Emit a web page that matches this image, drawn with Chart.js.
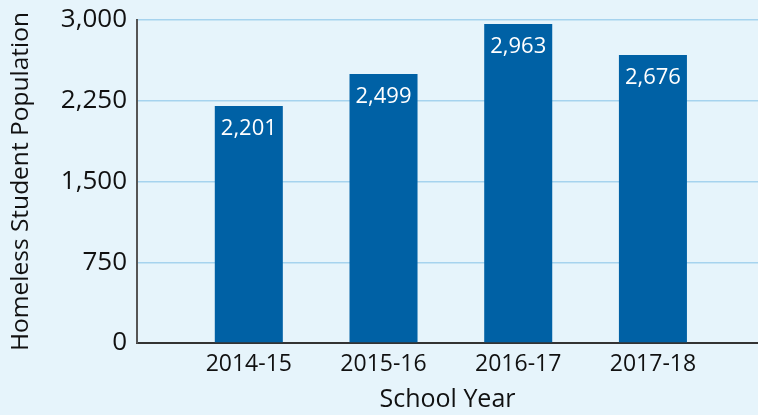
<!DOCTYPE html>
<html>
<head>
<meta charset="utf-8">
<script src="https://cdn.jsdelivr.net/npm/chart.js@4/dist/chart.umd.min.js"></script>
<style>
  html, body { margin: 0; padding: 0; background: #e6f4fb; }
  #wrap { width: 758px; height: 415px; }
</style>
</head>
<body>
<div id="wrap"><canvas id="chart"></canvas></div>
<script>
const schoolYears = ['2014-15', '2015-16', '2016-17', '2017-18'];
const homelessStudents = [2201, 2499, 2963, 2676];
const yTicks = [0, 750, 1500, 2250, 3000];

const FONT = '"Open Sans", Lato, sans-serif';

// white value labels just inside the top of each bar
const barLabels = {
    id: 'barLabels',
    afterDatasetsDraw(chart) {
        const ctx = chart.ctx;
        const meta = chart.getDatasetMeta(0);
        ctx.save();
        ctx.fillStyle = '#ffffff';
        ctx.font = '22px ' + FONT;
        ctx.textAlign = 'center';
        ctx.textBaseline = 'middle';
        meta.data.forEach((bar, i) => {
            ctx.fillText(homelessStudents[i].toLocaleString('en-US'), bar.x, bar.y + 23);
        });
        ctx.restore();
    }
};

new Chart(document.getElementById('chart'), {
    type: 'bar',
    data: {
        datasets: [{
            data: homelessStudents.map((v, i) => ({ x: i, y: v })),
            backgroundColor: '#0061a5',
            barPercentage: 0.505,
            categoryPercentage: 1
        }]
    },
    options: {
        responsive: true,
        maintainAspectRatio: false,
        animation: false,
        layout: { padding: { top: 20, right: 0, left: 0, bottom: 0 } },
        plugins: {
            legend: { display: false },
            tooltip: { enabled: false }
        },
        scales: {
            x: {
                type: 'linear',
                offset: false,
                min: -0.83,
                max: 3.78,
                afterBuildTicks: axis => {
                    axis.ticks = schoolYears.map((_, i) => ({ value: i }));
                },
                afterFit: axis => { axis.height = 72; },
                grid: { display: false, drawTicks: false, offset: false },
                border: { color: '#333333', width: 2 },
                ticks: {
                    callback: v => schoolYears[v],
                    color: '#111111',
                    font: { family: FONT, size: 23 },
                    padding: 8,
                    maxRotation: 0
                },
                title: {
                    display: true,
                    text: 'School Year',
                    color: '#111111',
                    font: { family: FONT, size: 25 },
                    padding: { top: 0, bottom: 0 }
                }
            },
            y: {
                min: 0,
                max: 3000,
                afterBuildTicks: axis => {
                    axis.ticks = yTicks.map(v => ({ value: v }));
                },
                afterFit: axis => {
                    axis.width = 137;
                    axis.paddingTop = 0;
                    axis.paddingBottom = 0;
                },
                grid: { color: '#a6d3ee', lineWidth: 1.5, drawTicks: false },
                border: { color: '#555555', width: 2 },
                ticks: {
                    callback: v => v.toLocaleString('en-US'),
                    color: '#111111',
                    font: { family: FONT, size: 26 },
                    padding: 10
                },
                title: {
                    display: true,
                    text: 'Homeless Student Population',
                    color: '#111111',
                    font: { family: FONT, size: 24.5 },
                    padding: { top: 6, bottom: 0 }
                }
            }
        }
    },
    plugins: [barLabels]
});
</script>
</body>
</html>
